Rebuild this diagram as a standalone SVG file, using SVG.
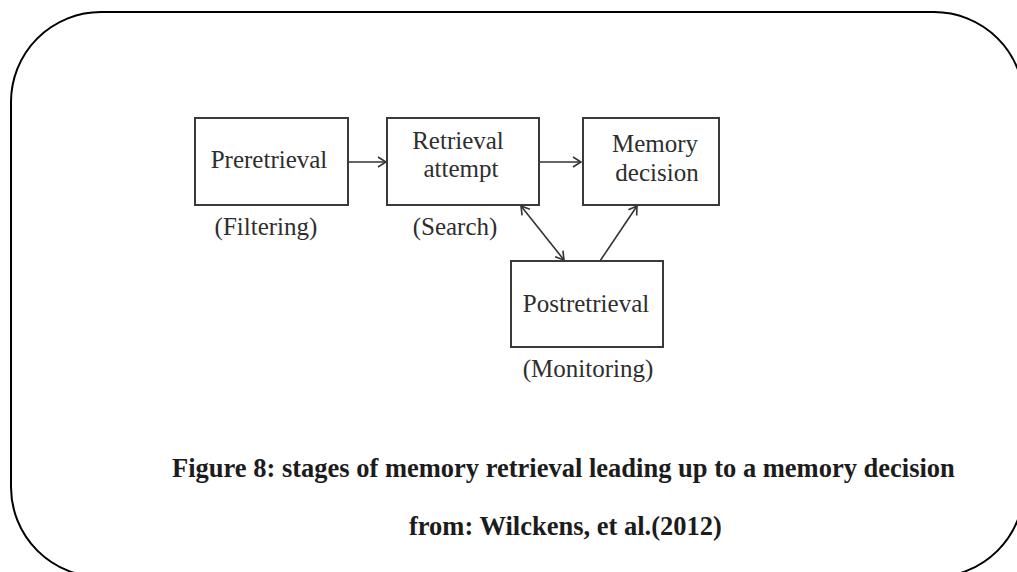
<svg xmlns="http://www.w3.org/2000/svg" width="1017" height="572" viewBox="0 0 1017 572">
  <style>
    .frame { fill: none; stroke: #000; stroke-width: 2; }
    .box { fill: #fff; stroke: #3a3a3a; stroke-width: 2; }
    .lbl { font-family: "Liberation Serif", "DejaVu Serif", serif; font-size: 25px; fill: #2e2e2e; text-anchor: middle; }
    .edge { fill: none; stroke: #333; stroke-width: 1.6; }
    .cap { font-family: "Liberation Serif", "Times New Roman", serif; font-size: 26.5px; font-weight: bold; fill: #1c1c1c; }
  </style>
  <defs>
    <marker id="vhead" viewBox="0 0 10 12" refX="9" refY="6" markerWidth="10" markerHeight="12" markerUnits="userSpaceOnUse" orient="auto-start-reverse">
      <path d="M1,1 L9,6 L1,11" fill="none" stroke="#333" stroke-width="1.6"/>
    </marker>
  </defs>

  <rect class="frame" x="11" y="12" width="1013" height="565" rx="90" ry="90"/>

  <g id="connectors">
    <line class="edge" x1="348" y1="162" x2="386" y2="162" marker-end="url(#vhead)"/>
    <line class="edge" x1="539" y1="162" x2="581" y2="162" marker-end="url(#vhead)"/>
    <line class="edge" x1="521" y1="206" x2="564" y2="260" marker-start="url(#vhead)" marker-end="url(#vhead)"/>
    <line class="edge" x1="600" y1="261" x2="637" y2="206" marker-end="url(#vhead)"/>
  </g>

  <g id="preretrieval">
    <rect class="box" x="195" y="118" width="153" height="87"/>
    <text class="lbl" x="269" y="168">Preretrieval</text>
    <text class="lbl" x="266" y="235">(Filtering)</text>
  </g>

  <g id="retrieval-attempt">
    <rect class="box" x="387" y="118" width="152" height="87"/>
    <text class="lbl" x="458" y="149">Retrieval</text>
    <text class="lbl" x="461" y="177">attempt</text>
    <text class="lbl" x="455" y="235">(Search)</text>
  </g>

  <g id="memory-decision">
    <rect class="box" x="583" y="118" width="136" height="87"/>
    <text class="lbl" x="655" y="152">Memory</text>
    <text class="lbl" x="657" y="181">decision</text>
  </g>

  <g id="postretrieval">
    <rect class="box" x="511" y="261" width="152" height="86"/>
    <text class="lbl" x="586" y="312">Postretrieval</text>
    <text class="lbl" x="588" y="377">(Monitoring)</text>
  </g>

  <g id="caption">
    <text class="cap" x="172" y="477">Figure 8: stages of memory retrieval leading up to a memory decision</text>
    <text class="cap" x="409" y="535">from: Wilckens, et al.(2012)</text>
  </g>
</svg>
